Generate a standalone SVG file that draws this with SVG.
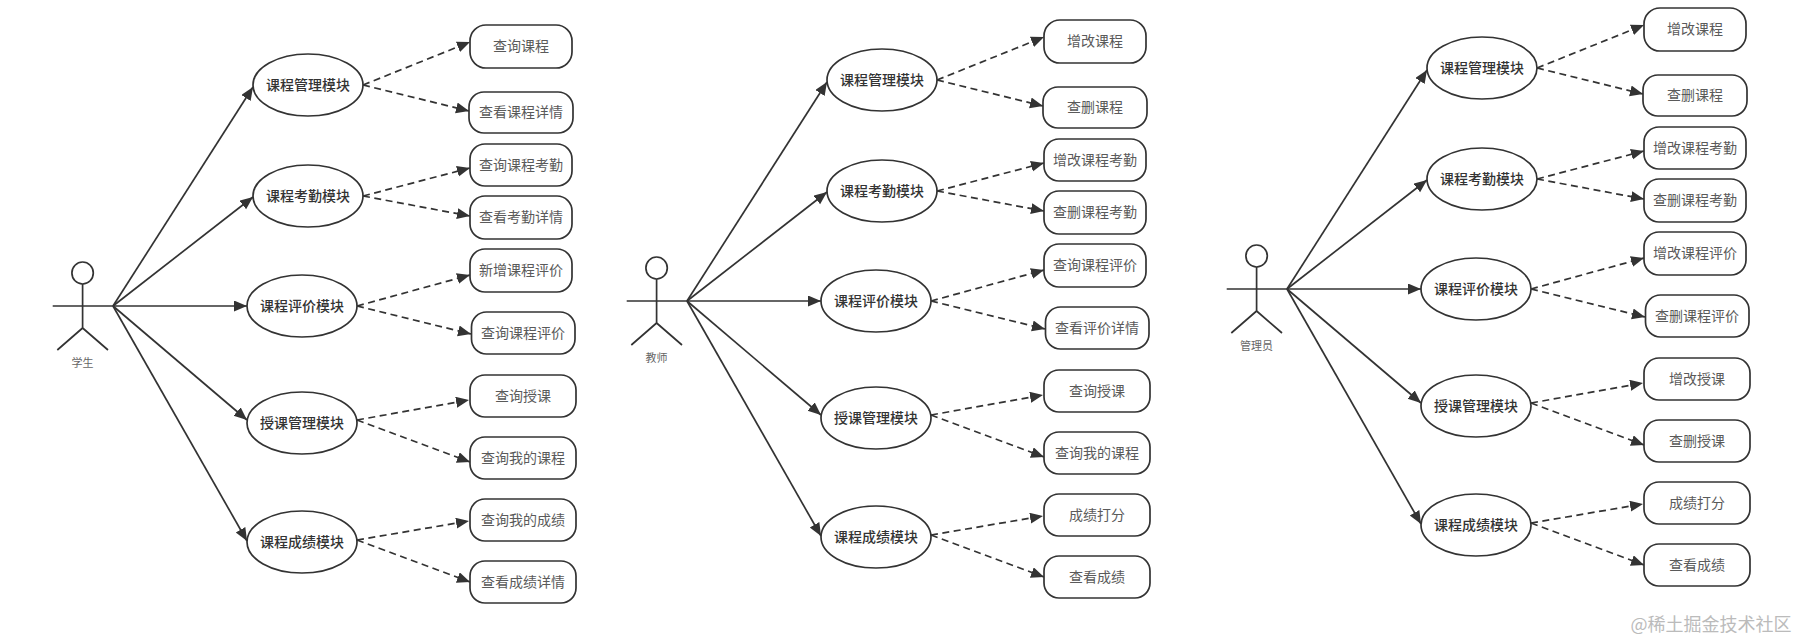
<svg xmlns="http://www.w3.org/2000/svg" width="1797" height="641" viewBox="0 0 1797 641">
<style>
text{font-family:"Noto Sans CJK SC","Liberation Sans",sans-serif;text-anchor:middle;dominant-baseline:central;transform:translateY(-.8px)}
.m ellipse,.l rect,.a ellipse,.a path{fill:#fff;stroke:#333;stroke-width:1.7}
.a path{fill:none}
.m text{font-size:14px;font-weight:500;fill:#333}
.l text{font-size:14px;fill:#5a5a5a}
.a text{font-size:11px;fill:#666}
.s,.d{fill:none;stroke:#333;stroke-width:1.7}
.s{marker-end:url(#t)}
.d{marker-end:url(#t);stroke-dasharray:7 4.5}
.w{font-size:18px;fill:#bbb}
</style>
<defs>
<marker id="t" markerUnits="userSpaceOnUse" markerWidth="14" markerHeight="13" refX="13" refY="5.500" orient="auto"><path d="M0 0L13 5.500L0 11Z" fill="#333"/></marker>
</defs>
<g id="connectors">
<g transform="translate(-1,0)">
<path class="s" d="M114 306L254 87"/><path class="s" d="M114 306L254 197"/><path class="s" d="M114 306L248 306"/><path class="s" d="M114 306L248 420"/><path class="s" d="M114 306L248 541"/>
<path class="d" d="M364 85L471 42"/><path class="d" d="M364 85L470 111"/><path class="d" d="M364 196L471 168"/><path class="d" d="M364 196L471 216"/><path class="d" d="M358 306L471 275"/><path class="d" d="M358 306L472 334"/><path class="d" d="M358 420L470 400"/><path class="d" d="M358 420L471 462"/><path class="d" d="M358 540L470 521"/><path class="d" d="M358 540L471 582"/>
</g>
<g transform="translate(573,-5)">
<path class="s" d="M114 306L254 87"/><path class="s" d="M114 306L254 197"/><path class="s" d="M114 306L248 306"/><path class="s" d="M114 306L248 420"/><path class="s" d="M114 306L248 541"/>
<path class="d" d="M364 85L471 42"/><path class="d" d="M364 85L470 111"/><path class="d" d="M364 196L471 168"/><path class="d" d="M364 196L471 216"/><path class="d" d="M358 306L471 275"/><path class="d" d="M358 306L472 334"/><path class="d" d="M358 420L470 400"/><path class="d" d="M358 420L471 462"/><path class="d" d="M358 540L470 521"/><path class="d" d="M358 540L471 582"/>
</g>
<g transform="translate(1173,-17)">
<path class="s" d="M114 306L254 87"/><path class="s" d="M114 306L254 197"/><path class="s" d="M114 306L248 306"/><path class="s" d="M114 306L248 420"/><path class="s" d="M114 306L248 541"/>
<path class="d" d="M364 85L471 42"/><path class="d" d="M364 85L470 111"/><path class="d" d="M364 196L471 168"/><path class="d" d="M364 196L471 216"/><path class="d" d="M358 306L471 275"/><path class="d" d="M358 306L472 334"/><path class="d" d="M358 420L470 400"/><path class="d" d="M358 420L471 462"/><path class="d" d="M358 540L470 521"/><path class="d" d="M358 540L471 582"/>
</g>
</g>
<g id="panel-student" transform="translate(-1,0)">
<g id="s-actor" class="a"><ellipse cx="83.6" cy="273" rx="10.7" ry="11"/><path d="M83.6 284V328M53.7 306H114M58.3 350L83.6 328L109 350"/><text x="83.6" y="363">学生</text></g>
<g id="s-m1" class="m"><ellipse cx="309" cy="85" rx="55" ry="31"/><text x="309" y="85">课程管理模块</text></g>
<g id="s-m2" class="m"><ellipse cx="309" cy="196" rx="55" ry="31"/><text x="309" y="196">课程考勤模块</text></g>
<g id="s-m3" class="m"><ellipse cx="303" cy="306" rx="55" ry="31"/><text x="303" y="306">课程评价模块</text></g>
<g id="s-m4" class="m"><ellipse cx="303" cy="423" rx="55" ry="31"/><text x="303" y="423">授课管理模块</text></g>
<g id="s-m5" class="m"><ellipse cx="303" cy="542" rx="55" ry="31"/><text x="303" y="542">课程成绩模块</text></g>
<g id="s-l1" class="l"><rect x="471" y="25" width="102" height="43" rx="16"/><text x="522" y="46">查询课程</text></g>
<g id="s-l2" class="l"><rect x="470" y="92" width="104" height="41" rx="15"/><text x="522" y="112">查看课程详情</text></g>
<g id="s-l3" class="l"><rect x="471" y="144" width="102" height="42" rx="15"/><text x="522" y="165">查询课程考勤</text></g>
<g id="s-l4" class="l"><rect x="471" y="196" width="102" height="43" rx="15"/><text x="522" y="217">查看考勤详情</text></g>
<g id="s-l5" class="l"><rect x="471" y="249" width="102" height="43" rx="15"/><text x="522" y="270">新增课程评价</text></g>
<g id="s-l6" class="l"><rect x="472.500" y="312" width="103.500" height="42" rx="15"/><text x="524" y="333">查询课程评价</text></g>
<g id="s-l7" class="l"><rect x="471" y="375" width="106" height="42" rx="15"/><text x="524" y="396">查询授课</text></g>
<g id="s-l8" class="l"><rect x="471" y="437" width="106" height="42" rx="15"/><text x="524" y="458">查询我的课程</text></g>
<g id="s-l9" class="l"><rect x="471" y="499" width="106" height="42" rx="15"/><text x="524" y="520">查询我的成绩</text></g>
<g id="s-l10" class="l"><rect x="471" y="561" width="106" height="42" rx="15"/><text x="524" y="582">查看成绩详情</text></g>
</g>
<g id="panel-teacher" transform="translate(573,-5)">
<g id="t-actor" class="a"><ellipse cx="83.6" cy="273" rx="10.7" ry="11"/><path d="M83.6 284V328M53.7 306H114M58.3 350L83.6 328L109 350"/><text x="83.6" y="363">教师</text></g>
<g id="t-m1" class="m"><ellipse cx="309" cy="85" rx="55" ry="31"/><text x="309" y="85">课程管理模块</text></g>
<g id="t-m2" class="m"><ellipse cx="309" cy="196" rx="55" ry="31"/><text x="309" y="196">课程考勤模块</text></g>
<g id="t-m3" class="m"><ellipse cx="303" cy="306" rx="55" ry="31"/><text x="303" y="306">课程评价模块</text></g>
<g id="t-m4" class="m"><ellipse cx="303" cy="423" rx="55" ry="31"/><text x="303" y="423">授课管理模块</text></g>
<g id="t-m5" class="m"><ellipse cx="303" cy="542" rx="55" ry="31"/><text x="303" y="542">课程成绩模块</text></g>
<g id="t-l1" class="l"><rect x="471" y="25" width="102" height="43" rx="16"/><text x="522" y="46">增改课程</text></g>
<g id="t-l2" class="l"><rect x="470" y="92" width="104" height="41" rx="15"/><text x="522" y="112">查删课程</text></g>
<g id="t-l3" class="l"><rect x="471" y="144" width="102" height="42" rx="15"/><text x="522" y="165">增改课程考勤</text></g>
<g id="t-l4" class="l"><rect x="471" y="196" width="102" height="43" rx="15"/><text x="522" y="217">查删课程考勤</text></g>
<g id="t-l5" class="l"><rect x="471" y="249" width="102" height="43" rx="15"/><text x="522" y="270">查询课程评价</text></g>
<g id="t-l6" class="l"><rect x="472.500" y="312" width="103.500" height="42" rx="15"/><text x="524" y="333">查看评价详情</text></g>
<g id="t-l7" class="l"><rect x="471" y="375" width="106" height="42" rx="15"/><text x="524" y="396">查询授课</text></g>
<g id="t-l8" class="l"><rect x="471" y="437" width="106" height="42" rx="15"/><text x="524" y="458">查询我的课程</text></g>
<g id="t-l9" class="l"><rect x="471" y="499" width="106" height="42" rx="15"/><text x="524" y="520">成绩打分</text></g>
<g id="t-l10" class="l"><rect x="471" y="561" width="106" height="42" rx="15"/><text x="524" y="582">查看成绩</text></g>
</g>
<g id="panel-admin" transform="translate(1173,-17)">
<g id="d-actor" class="a"><ellipse cx="83.6" cy="273" rx="10.7" ry="11"/><path d="M83.6 284V328M53.7 306H114M58.3 350L83.6 328L109 350"/><text x="83.6" y="363">管理员</text></g>
<g id="d-m1" class="m"><ellipse cx="309" cy="85" rx="55" ry="31"/><text x="309" y="85">课程管理模块</text></g>
<g id="d-m2" class="m"><ellipse cx="309" cy="196" rx="55" ry="31"/><text x="309" y="196">课程考勤模块</text></g>
<g id="d-m3" class="m"><ellipse cx="303" cy="306" rx="55" ry="31"/><text x="303" y="306">课程评价模块</text></g>
<g id="d-m4" class="m"><ellipse cx="303" cy="423" rx="55" ry="31"/><text x="303" y="423">授课管理模块</text></g>
<g id="d-m5" class="m"><ellipse cx="303" cy="542" rx="55" ry="31"/><text x="303" y="542">课程成绩模块</text></g>
<g id="d-l1" class="l"><rect x="471" y="25" width="102" height="43" rx="16"/><text x="522" y="46">增改课程</text></g>
<g id="d-l2" class="l"><rect x="470" y="92" width="104" height="41" rx="15"/><text x="522" y="112">查删课程</text></g>
<g id="d-l3" class="l"><rect x="471" y="144" width="102" height="42" rx="15"/><text x="522" y="165">增改课程考勤</text></g>
<g id="d-l4" class="l"><rect x="471" y="196" width="102" height="43" rx="15"/><text x="522" y="217">查删课程考勤</text></g>
<g id="d-l5" class="l"><rect x="471" y="249" width="102" height="43" rx="15"/><text x="522" y="270">增改课程评价</text></g>
<g id="d-l6" class="l"><rect x="472.500" y="312" width="103.500" height="42" rx="15"/><text x="524" y="333">查删课程评价</text></g>
<g id="d-l7" class="l"><rect x="471" y="375" width="106" height="42" rx="15"/><text x="524" y="396">增改授课</text></g>
<g id="d-l8" class="l"><rect x="471" y="437" width="106" height="42" rx="15"/><text x="524" y="458">查删授课</text></g>
<g id="d-l9" class="l"><rect x="471" y="499" width="106" height="42" rx="15"/><text x="524" y="520">成绩打分</text></g>
<g id="d-l10" class="l"><rect x="471" y="561" width="106" height="42" rx="15"/><text x="524" y="582">查看成绩</text></g>
</g>
<text class="w" x="1711" y="624">@稀土掘金技术社区</text>
</svg>
